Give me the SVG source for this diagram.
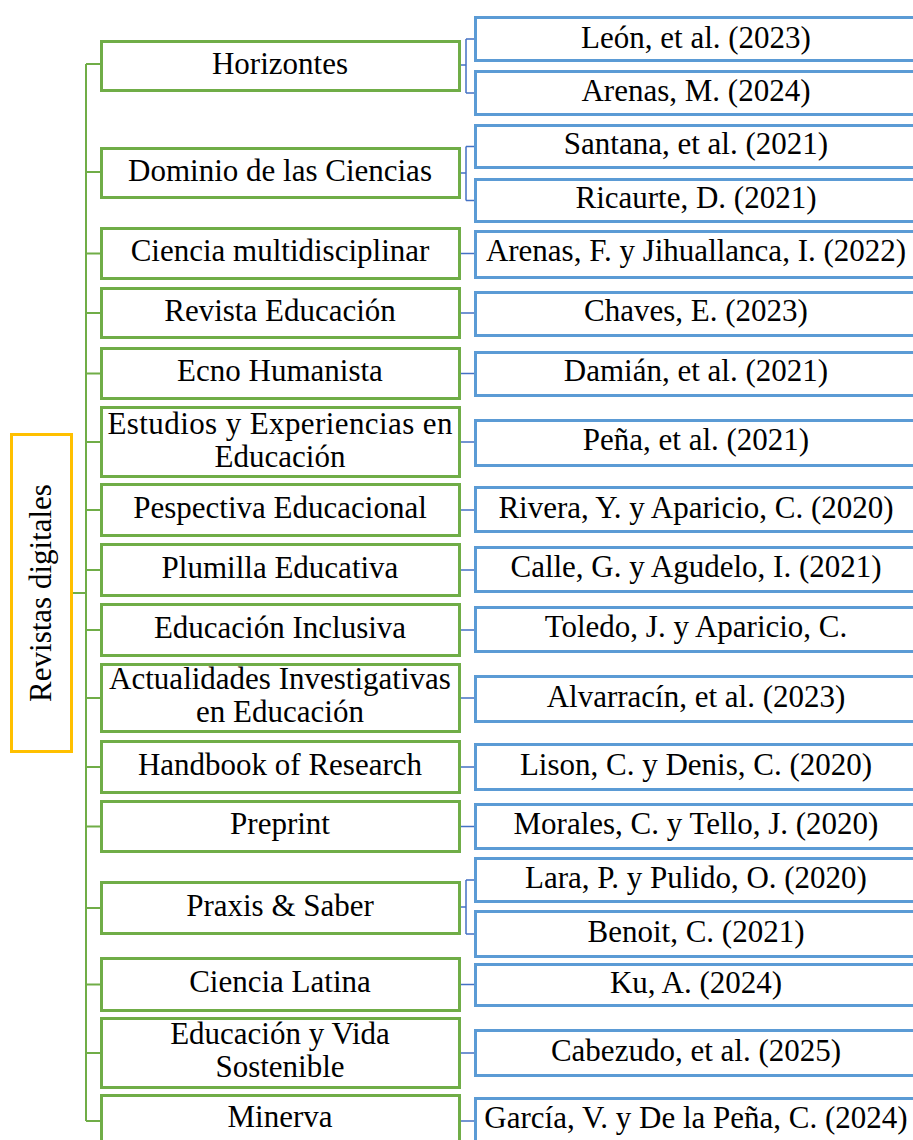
<svg xmlns="http://www.w3.org/2000/svg" width="913" height="1140" viewBox="0 0 913 1140">
<style>
.g rect{fill:#fff;stroke:#70AD47;stroke-width:3}
.b rect{fill:#fff;stroke:#5B9BD5;stroke-width:3}
.r rect{fill:#fff;stroke:#FFC000;stroke-width:3}
text{font-family:"Liberation Serif","Times New Roman",serif;font-size:31px;fill:#000;text-anchor:middle}
.cg{fill:none;stroke:#70AD47;stroke-width:2}
.cb{fill:none;stroke:#4472C4;stroke-width:1.5}
</style>
<rect width="913" height="1140" fill="#fff"/>
<g id="connectors">
<path class="cg" d="M73 593H86M86 64V1121M86 64H100M86 172H100M86 253.5H100M86 313H100M86 373.5H100M86 442H100M86 510H100M86 570H100M86 630H100M86 698H100M86 767H100M86 826.5H100M86 908H100M86 984.5H100M86 1053H100M86 1121H100"/>
<path class="cb" d="M461 65H466M466 39V93M466 39H474M466 93H474M461 173H466M466 146.5V200.5M466 146.5H474M466 200.5H474M461 907H466M466 880V934M466 880H474M466 934H474M461 253.5H474M461 313H474M461 373.5H474M461 442H474M461 510H474M461 570H474M461 630H474M461 698H474M461 767H474M461 826.5H474M461 984.5H474M461 1053H474M461 1121H474"/>
</g>
<g id="root" class="r"><rect x="11.5" y="434.5" width="60" height="317"/><text transform="translate(51,593) rotate(-90)">Revistas digitales</text></g>
<g id="g1" class="g"><rect x="101.5" y="41.5" width="358" height="49"/><text x="280" y="74">Horizontes</text></g>
<g id="g2" class="g"><rect x="101.5" y="148.5" width="358" height="49"/><text x="280" y="181">Dominio de las Ciencias</text></g>
<g id="g3" class="g"><rect x="101.5" y="228.5" width="358" height="50"/><text x="280" y="261">Ciencia multidisciplinar</text></g>
<g id="g4" class="g"><rect x="101.5" y="288.5" width="358" height="49"/><text x="280" y="321">Revista Educación</text></g>
<g id="g5" class="g"><rect x="101.5" y="348.5" width="358" height="50"/><text x="280" y="381">Ecno Humanista</text></g>
<g id="g6" class="g"><rect x="101.5" y="407.5" width="358" height="69"/><text x="280" y="434" textLength="345" lengthAdjust="spacing">Estudios y Experiencias en</text><text x="280" y="467">Educación</text></g>
<g id="g7" class="g"><rect x="101.5" y="484.5" width="358" height="51"/><text x="280" y="518">Pespectiva Educacional</text></g>
<g id="g8" class="g"><rect x="101.5" y="544.5" width="358" height="51"/><text x="280" y="578">Plumilla  Educativa</text></g>
<g id="g9" class="g"><rect x="101.5" y="604.5" width="358" height="51"/><text x="280" y="638">Educación Inclusiva</text></g>
<g id="g10" class="g"><rect x="101.5" y="664.5" width="358" height="67"/><text x="280" y="689">Actualidades Investigativas</text><text x="280" y="722">en Educación</text></g>
<g id="g11" class="g"><rect x="101.5" y="741.5" width="358" height="51"/><text x="280" y="775">Handbook of Research</text></g>
<g id="g12" class="g"><rect x="101.5" y="801.5" width="358" height="50"/><text x="280" y="834">Preprint</text></g>
<g id="g13" class="g"><rect x="101.5" y="882.5" width="358" height="51"/><text x="280" y="916">Praxis &amp; Saber</text></g>
<g id="g14" class="g"><rect x="101.5" y="958.5" width="358" height="52"/><text x="280" y="992">Ciencia Latina</text></g>
<g id="g15" class="g"><rect x="101.5" y="1018.5" width="358" height="69"/><text x="280" y="1044">Educación y Vida</text><text x="280" y="1077">Sostenible</text></g>
<g id="g16" class="g"><rect x="101.5" y="1095.5" width="358" height="60"/><text x="280" y="1127">Minerva</text></g>
<g id="b1" class="b"><rect x="475.5" y="17.5" width="445" height="43"/><text x="696" y="48">León, et al. (2023)</text></g>
<g id="b2" class="b"><rect x="475.5" y="71.5" width="445" height="43"/><text x="696" y="101">Arenas, M. (2024)</text></g>
<g id="b3" class="b"><rect x="475.5" y="125.5" width="445" height="42"/><text x="696" y="154">Santana, et al. (2021)</text></g>
<g id="b4" class="b"><rect x="475.5" y="179.5" width="445" height="42"/><text x="696" y="208">Ricaurte, D. (2021)</text></g>
<g id="b5" class="b"><rect x="475.5" y="231.5" width="445" height="46"/><text x="696" y="261">Arenas, F. y Jihuallanca, I. (2022)</text></g>
<g id="b6" class="b"><rect x="475.5" y="292.5" width="445" height="43"/><text x="696" y="321">Chaves, E. (2023)</text></g>
<g id="b7" class="b"><rect x="475.5" y="352.5" width="445" height="43"/><text x="696" y="381">Damián, et al. (2021)</text></g>
<g id="b8" class="b"><rect x="475.5" y="420.5" width="445" height="45"/><text x="696" y="450">Peña, et al. (2021)</text></g>
<g id="b9" class="b"><rect x="475.5" y="487.5" width="445" height="44"/><text x="696" y="518">Rivera, Y. y Aparicio, C. (2020)</text></g>
<g id="b10" class="b"><rect x="475.5" y="547.5" width="445" height="44"/><text x="696" y="577">Calle, G. y Agudelo, I. (2021)</text></g>
<g id="b11" class="b"><rect x="475.5" y="607.5" width="445" height="44"/><text x="696" y="637">Toledo, J. y Aparicio, C.</text></g>
<g id="b12" class="b"><rect x="475.5" y="676.5" width="445" height="45"/><text x="696" y="707">Alvarracín, et al. (2023)</text></g>
<g id="b13" class="b"><rect x="475.5" y="744.5" width="445" height="45"/><text x="696" y="775">Lison, C. y Denis, C. (2020)</text></g>
<g id="b14" class="b"><rect x="475.5" y="804.5" width="445" height="44"/><text x="696" y="834">Morales, C. y Tello, J. (2020)</text></g>
<g id="b15" class="b"><rect x="475.5" y="858.5" width="445" height="43"/><text x="696" y="888">Lara, P. y Pulido, O. (2020)</text></g>
<g id="b16" class="b"><rect x="475.5" y="911.5" width="445" height="45"/><text x="696" y="942">Benoit, C. (2021)</text></g>
<g id="b17" class="b"><rect x="475.5" y="964.5" width="445" height="41"/><text x="696" y="993">Ku, A. (2024)</text></g>
<g id="b18" class="b"><rect x="475.5" y="1030.5" width="445" height="45"/><text x="696" y="1061">Cabezudo, et al. (2025)</text></g>
<g id="b19" class="b"><rect x="475.5" y="1098.5" width="445" height="50"/><text x="696" y="1128">García, V. y De la Peña, C. (2024)</text></g>
</svg>
